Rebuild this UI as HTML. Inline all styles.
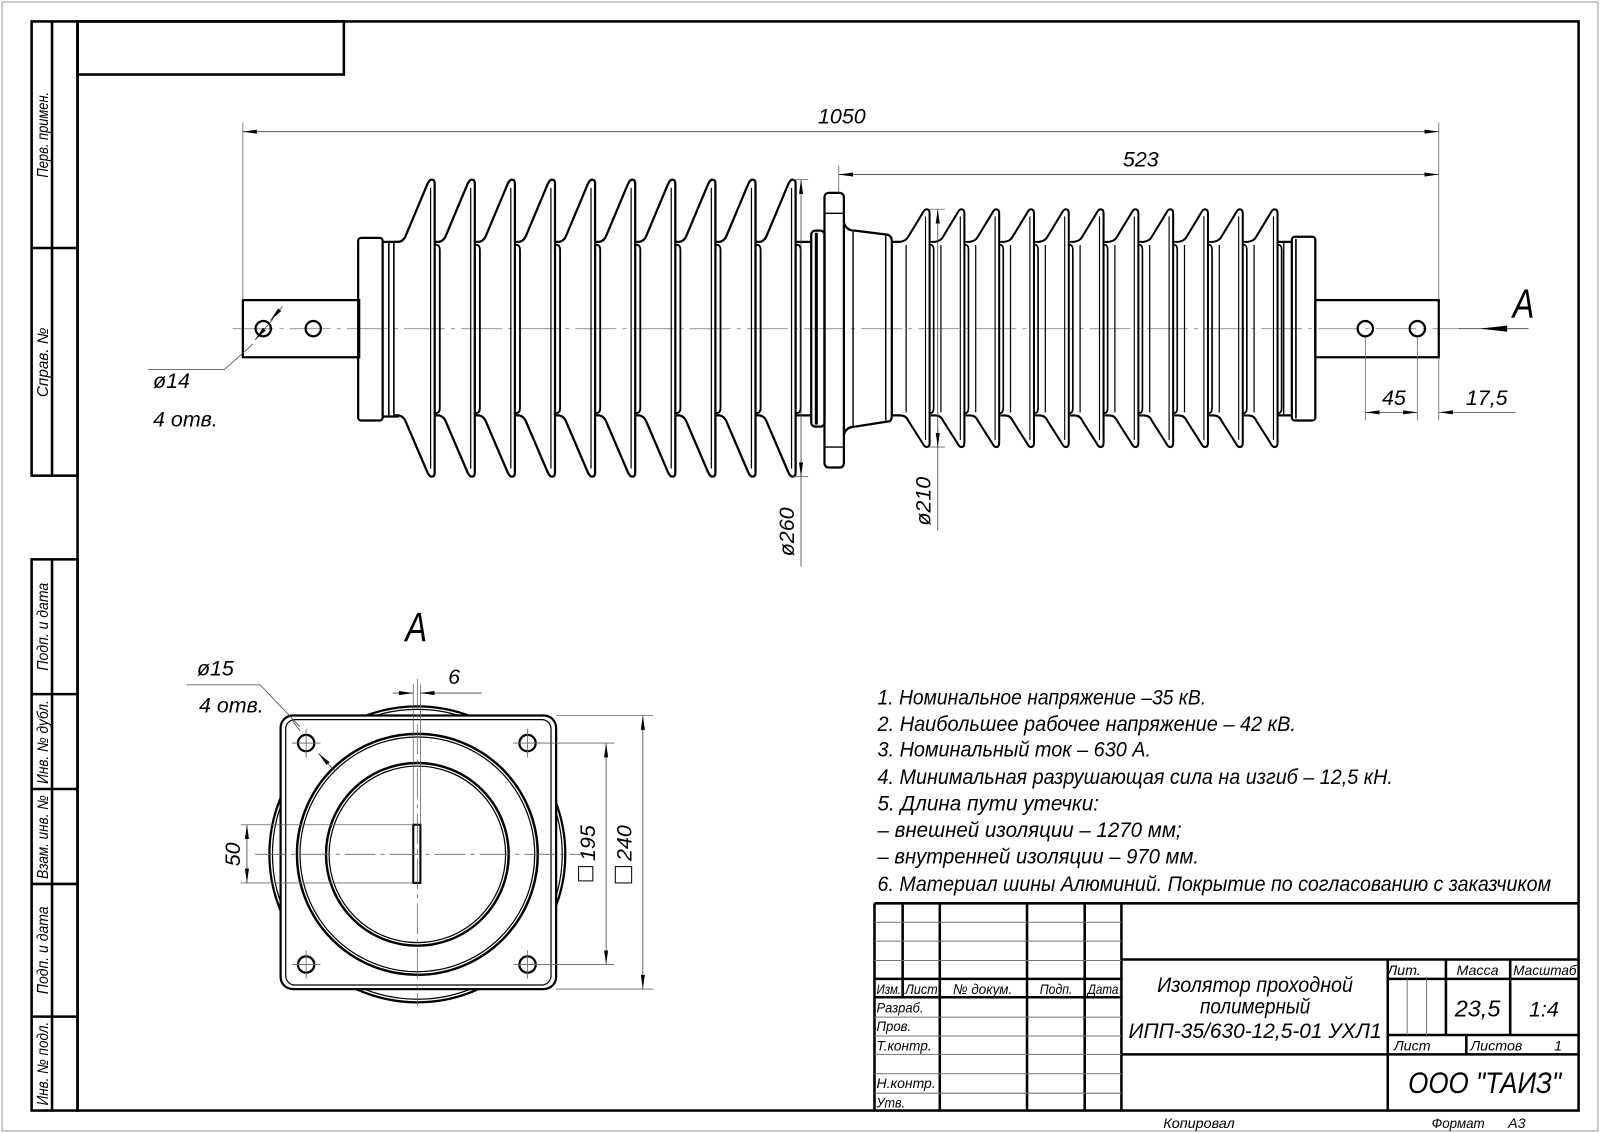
<!DOCTYPE html>
<html><head><meta charset="utf-8"><style>
html,body{margin:0;padding:0;background:#fff}
svg{display:block}
text{font-family:"Liberation Sans","DejaVu Sans",sans-serif;font-style:italic;fill:#000}
</style></head><body>
<svg width="1600" height="1133" viewBox="0 0 1568 1110" preserveAspectRatio="none" xmlns="http://www.w3.org/2000/svg">
<defs>
<marker id="ar" viewBox="0 0 14 4" refX="14" refY="2" markerWidth="14" markerHeight="4" markerUnits="userSpaceOnUse" orient="auto-start-reverse"><path d="M0 0 L14 2 L0 4 Z" fill="#000"/></marker>
<g id="shL" fill="none" stroke="#000" stroke-width="2.2">
<path d="M-36 237 L-32 237 Q-27 236 -25 230 L-4 180 Q-2 176 0 176 Q3 176 3 180 L3 463 Q3 467 0 467 Q-2 467 -4 463 L-25 414 Q-27 408 -32 407 L-36 407"/>
<line x1="-1" y1="184" x2="-1" y2="459" stroke-width="1.2"/>
<path d="M3 240 Q8 239 8 245 L8 400 Q8 405 3 405" stroke-width="1.8"/>
</g>
<g id="shR" fill="none" stroke="#000" stroke-width="2">
<path d="M-30 237 L-26 237 Q-20 236 -18 232 L-4 209 Q-2 205 0 205 Q3 205 3 209 L3 434 Q3 438 0 438 Q-2 438 -4 434 L-18 412 Q-20 407 -26 407 L-30 407"/>
<line x1="-1" y1="212" x2="-1" y2="431" stroke-width="1.1"/>
<path d="M3 240 Q7 239 7 245 L7 400 Q7 405 3 405" stroke-width="1.6"/>
<line x1="-20" y1="240" x2="-20" y2="404" stroke-width="1.2"/>
</g>
</defs>
<rect x="0" y="0" width="1568" height="1110" fill="#fff"/>
<rect x="2" y="2" width="1564" height="1106" fill="none" stroke="#999" stroke-width="1"/>
<!-- frame -->
<g fill="none" stroke="#000" stroke-width="2.5">
<rect x="76" y="21" width="1471" height="1067"/>
<rect x="76" y="21" width="261" height="52"/>
<rect x="31" y="21" width="45" height="445"/>
<line x1="51" y1="21" x2="51" y2="466"/>
<line x1="31" y1="243" x2="76" y2="243"/>
<rect x="31" y="548" width="45" height="540"/>
<line x1="51" y1="548" x2="51" y2="1088"/>
<line x1="31" y1="680" x2="76" y2="680"/>
<line x1="31" y1="773" x2="76" y2="773"/>
<line x1="31" y1="866" x2="76" y2="866"/>
<line x1="31" y1="996" x2="76" y2="996"/>
</g>
<g font-size="15">
<text transform="translate(47,132) rotate(-90)" text-anchor="middle" textLength="84" lengthAdjust="spacingAndGlyphs">Перв. примен.</text>
<text transform="translate(47,355) rotate(-90)" text-anchor="middle">Справ. №</text>
<text transform="translate(47,614) rotate(-90)" text-anchor="middle" textLength="86" lengthAdjust="spacingAndGlyphs">Подп. и дата</text>
<text transform="translate(47,727) rotate(-90)" text-anchor="middle" textLength="82" lengthAdjust="spacingAndGlyphs">Инв. № дубл.</text>
<text transform="translate(47,820) rotate(-90)" text-anchor="middle" textLength="82" lengthAdjust="spacingAndGlyphs">Взам. инв. №</text>
<text transform="translate(47,931) rotate(-90)" text-anchor="middle" textLength="86" lengthAdjust="spacingAndGlyphs">Подп. и дата</text>
<text transform="translate(47,1042) rotate(-90)" text-anchor="middle" textLength="82" lengthAdjust="spacingAndGlyphs">Инв. № подл.</text>
</g>

<!-- MAIN VIEW -->
<line x1="228" y1="322" x2="1432" y2="322" stroke="#888" stroke-width="0.8" stroke-dasharray="40 6 4 6"/>
<g fill="none" stroke="#000" stroke-width="2.2">
<rect x="238" y="294" width="114" height="56"/>
<circle cx="258" cy="322" r="7.5"/>
<circle cx="307" cy="322" r="7.5"/>
<rect x="1289" y="294" width="121" height="56"/>
<circle cx="1338" cy="322" r="7.5"/>
<circle cx="1389" cy="322" r="7.5"/>
<!-- left cap -->
<rect x="351" y="233" width="24" height="179" rx="3"/>
<path d="M375 237 L391 237 M375 408 L391 408"/>
<line x1="381" y1="238" x2="381" y2="407" stroke-width="1.6"/>
<line x1="386" y1="238" x2="386" y2="407" stroke-width="1.6"/>
<!-- neck left to ring -->
<path d="M780 237 L795 237 M780 407 L795 407"/>
<rect x="795" y="226" width="13" height="192" rx="4"/>
<line x1="800" y1="228" x2="800" y2="416" stroke-width="3"/>
<rect x="808" y="189" width="19" height="269" rx="4"/>
<path d="M808 209 L827 209 M808 438 L827 438" stroke-width="1.4"/>
<path d="M827 218 Q829 226 838 226 L870 230 Q874 231 874 237 L874 407 Q874 413 870 413 L838 418 Q829 418 827 426"/>
<line x1="836" y1="227" x2="836" y2="417" stroke-width="1.4"/>
<line x1="868" y1="231" x2="868" y2="412" stroke-width="1.4"/>
<path d="M874 237 L882 237 M874 407 L882 407"/>
<!-- right end -->
<path d="M1252 237 L1266 237 M1252 407 L1266 407"/>
<line x1="1258" y1="238" x2="1258" y2="406" stroke-width="1.4"/>
<rect x="1266" y="232" width="23" height="180" rx="3"/>
<line x1="1270" y1="234" x2="1270" y2="410" stroke-width="1.6"/>
</g>
<use href="#shL" x="423"/><use href="#shL" x="462.3"/><use href="#shL" x="501.6"/><use href="#shL" x="540.9"/><use href="#shL" x="580.2"/><use href="#shL" x="619.5"/><use href="#shL" x="658.8"/><use href="#shL" x="698.1"/><use href="#shL" x="737.4"/><use href="#shL" x="776.7"/>
<use href="#shR" x="908"/><use href="#shR" x="942.1"/><use href="#shR" x="976.2"/><use href="#shR" x="1010.3"/><use href="#shR" x="1044.4"/><use href="#shR" x="1078.5"/><use href="#shR" x="1112.6"/><use href="#shR" x="1146.7"/><use href="#shR" x="1180.8"/><use href="#shR" x="1214.9"/><use href="#shR" x="1249"/>

<!-- dimensions main -->
<g stroke="#666" stroke-width="0.8" fill="none">
<line x1="238" y1="120" x2="238" y2="294"/>
<line x1="1410" y1="120" x2="1410" y2="294"/>
<line x1="822" y1="162" x2="822" y2="189"/>
<line x1="238" y1="129" x2="1410" y2="129" stroke="#444" marker-start="url(#ar)" marker-end="url(#ar)"/>
<line x1="822" y1="171" x2="1410" y2="171" stroke="#444" marker-start="url(#ar)" marker-end="url(#ar)"/>
<line x1="777" y1="176" x2="792" y2="176"/>
<line x1="777" y1="467" x2="792" y2="467"/>
<line x1="785" y1="176" x2="785" y2="555" stroke="#444" marker-start="url(#ar)"/>
<line x1="785" y1="450" x2="785" y2="467" stroke="#444" marker-end="url(#ar)"/>
<line x1="910" y1="205" x2="926" y2="205"/>
<line x1="910" y1="438" x2="926" y2="438"/>
<line x1="919" y1="205" x2="919" y2="520" stroke="#444" marker-start="url(#ar)"/>
<line x1="919" y1="420" x2="919" y2="438" stroke="#444" marker-end="url(#ar)"/>
<line x1="1338" y1="330" x2="1338" y2="412"/>
<line x1="1389" y1="330" x2="1389" y2="412"/>
<line x1="1410" y1="350" x2="1410" y2="412"/>
<line x1="1338" y1="404" x2="1389" y2="404" stroke="#444" marker-start="url(#ar)" marker-end="url(#ar)"/>
<line x1="1410" y1="404" x2="1485" y2="404" stroke="#444" marker-start="url(#ar)"/>
<line x1="1430" y1="322" x2="1498" y2="322" stroke="#444"/>
<path d="M248 337 L220 362 L145 362" stroke="#444"/>
<line x1="250" y1="333" x2="268" y2="312" stroke="#444" marker-start="url(#ar)"/>
<line x1="277" y1="300" x2="265" y2="314" stroke="#444" marker-end="url(#ar)"/>
</g>
<path d="M1450 322 L1477 319 L1477 325 Z" fill="#000"/>
<g font-size="21">
<text x="825" y="121" text-anchor="middle">1050</text>
<text x="1118" y="163" text-anchor="middle">523</text>
<text x="1366" y="397" text-anchor="middle">45</text>
<text x="1457" y="397" text-anchor="middle">17,5</text>
<text x="150" y="380">ø14</text>
<text x="150" y="418">4 отв.</text>
<text transform="translate(778,545) rotate(-90)">ø260</text>
<text transform="translate(912,515) rotate(-90)">ø210</text>
</g>
<text x="1493" y="311" font-size="40" font-style="normal" text-anchor="middle" transform="translate(1493,0) scale(0.8,1) translate(-1493,0)">A</text>

<!-- VIEW A -->
<text x="408" y="628" font-size="40" font-style="normal" text-anchor="middle" transform="translate(408,0) scale(0.8,1) translate(-408,0)">A</text>
<g fill="none" stroke="#000">
<circle cx="409" cy="837" r="145" stroke-width="2.2"/>
<circle cx="409" cy="837" r="142" stroke-width="1.2"/>
<rect x="275" y="701" width="270" height="268" rx="12" fill="#fff" stroke-width="2.2"/>
<rect x="280" y="705" width="260" height="260" rx="9" stroke-width="1.2"/>
<circle cx="409" cy="837" r="118" stroke-width="2.4"/>
<circle cx="409" cy="837" r="115" stroke-width="1.2"/>
<circle cx="409" cy="837" r="89.5" stroke-width="2.4"/>
<circle cx="409" cy="837" r="86.5" stroke-width="1.2"/>
<circle cx="300" cy="728" r="8" stroke-width="2.2"/>
<circle cx="517" cy="728" r="8" stroke-width="2.2"/>
<circle cx="300" cy="945" r="8" stroke-width="2.2"/>
<circle cx="517" cy="945" r="8" stroke-width="2.2"/>
<rect x="405" y="808" width="7" height="57" stroke-width="2"/>
</g>
<g stroke="#666" stroke-width="0.8" fill="none">
<line x1="409" y1="665" x2="409" y2="985" stroke-dasharray="30 5 4 5"/>
<line x1="250" y1="837" x2="580" y2="837" stroke-dasharray="30 5 4 5"/>
<path d="M286 728 L314 728 M300 714 L300 742 M503 728 L531 728 M517 714 L517 742 M286 945 L314 945 M300 931 L300 959 M503 945 L531 945 M517 931 L517 959"/>
<line x1="405" y1="670" x2="405" y2="808"/>
<line x1="412" y1="670" x2="412" y2="808"/>
<line x1="385" y1="679" x2="405" y2="679" stroke="#444" marker-end="url(#ar)"/>
<line x1="472" y1="679" x2="412" y2="679" stroke="#444" marker-end="url(#ar)"/>
<line x1="236" y1="808" x2="405" y2="808"/>
<line x1="236" y1="865" x2="405" y2="865"/>
<line x1="242" y1="808" x2="242" y2="865" stroke="#444" marker-start="url(#ar)" marker-end="url(#ar)"/>
<line x1="517" y1="728" x2="602" y2="728"/>
<line x1="517" y1="945" x2="602" y2="945"/>
<line x1="594" y1="728" x2="594" y2="945" stroke="#444" marker-start="url(#ar)" marker-end="url(#ar)"/>
<line x1="545" y1="701" x2="640" y2="701"/>
<line x1="545" y1="969" x2="640" y2="969"/>
<line x1="630" y1="701" x2="630" y2="969" stroke="#444" marker-start="url(#ar)" marker-end="url(#ar)"/>
<path d="M183 671 L255 671 L294 712" stroke="#444"/>
<line x1="286" y1="705" x2="294" y2="716" stroke="#444"/>
<line x1="328" y1="755" x2="312" y2="738" stroke="#444" marker-end="url(#ar)"/>
</g>
<g font-size="21">
<text x="445" y="670" text-anchor="middle">6</text>
<text x="193" y="662">ø15</text>
<text x="195" y="698">4 отв.</text>
<text transform="translate(235,837) rotate(-90)" text-anchor="middle">50</text>
<text transform="translate(583,826) rotate(-90)" text-anchor="middle">195</text>
<text transform="translate(619,826) rotate(-90)" text-anchor="middle">240</text>
</g>
<rect x="567" y="849" width="14" height="14" fill="none" stroke="#000" stroke-width="1"/>
<rect x="603" y="849" width="16" height="16" fill="none" stroke="#000" stroke-width="1"/>

<!-- NOTES -->
<g font-size="21">
<text x="860" y="690" textLength="322" lengthAdjust="spacingAndGlyphs">1. Номинальное напряжение –35 кВ.</text>
<text x="860" y="716" textLength="410" lengthAdjust="spacingAndGlyphs">2. Наибольшее рабочее напряжение – 42 кВ.</text>
<text x="860" y="741" textLength="268" lengthAdjust="spacingAndGlyphs">3. Номинальный ток – 630 А.</text>
<text x="860" y="768" textLength="505" lengthAdjust="spacingAndGlyphs">4. Минимальная разрушающая сила на изгиб – 12,5 кН.</text>
<text x="860" y="794" textLength="217" lengthAdjust="spacingAndGlyphs">5.  Длина пути утечки:</text>
<text x="860" y="820" textLength="298" lengthAdjust="spacingAndGlyphs">– внешней изоляции – 1270 мм;</text>
<text x="860" y="846" textLength="315" lengthAdjust="spacingAndGlyphs">– внутренней изоляции – 970 мм.</text>
<text x="860" y="873" textLength="660" lengthAdjust="spacingAndGlyphs">6. Материал шины Алюминий. Покрытие по согласованию с заказчиком</text>
</g>

<!-- TITLE BLOCK -->
<g fill="none" stroke="#000" stroke-width="2.5">
<line x1="857" y1="885" x2="1547" y2="885"/>
<line x1="857" y1="885" x2="857" y2="1088"/>
<line x1="884.6" y1="885" x2="884.6" y2="977"/>
<line x1="921" y1="885" x2="921" y2="1088"/>
<line x1="1006.5" y1="885" x2="1006.5" y2="1088"/>
<line x1="1063" y1="885" x2="1063" y2="1088"/>
<line x1="1099" y1="885" x2="1099" y2="1088"/>
<line x1="857" y1="959" x2="1099" y2="959"/>
<line x1="857" y1="977" x2="1099" y2="977"/>
<line x1="1099" y1="940" x2="1547" y2="940"/>
<line x1="1099" y1="1033" x2="1547" y2="1033"/>
<line x1="1360" y1="940" x2="1360" y2="1088"/>
<line x1="1360" y1="959" x2="1547" y2="959"/>
<line x1="1360" y1="1014" x2="1547" y2="1014"/>
<line x1="1417" y1="940" x2="1417" y2="1014"/>
<line x1="1480" y1="940" x2="1480" y2="1014"/>
<line x1="1437" y1="1014" x2="1437" y2="1033"/>
</g>
<g stroke="#777" stroke-width="1" fill="none">
<line x1="857" y1="903.5" x2="1099" y2="903.5"/>
<line x1="857" y1="922" x2="1099" y2="922"/>
<line x1="857" y1="941" x2="1099" y2="941"/>
<line x1="857" y1="996.5" x2="1099" y2="996.5"/>
<line x1="857" y1="1015" x2="1099" y2="1015"/>
<line x1="857" y1="1033" x2="1099" y2="1033"/>
<line x1="857" y1="1052" x2="1099" y2="1052"/>
<line x1="857" y1="1071" x2="1099" y2="1071"/>
<line x1="1379" y1="959" x2="1379" y2="1014"/>
<line x1="1398" y1="959" x2="1398" y2="1014"/>
</g>
<g font-size="14">
<text x="859" y="974" textLength="24" lengthAdjust="spacingAndGlyphs">Изм.</text>
<text x="887" y="974" textLength="32" lengthAdjust="spacingAndGlyphs">Лист</text>
<text x="963" y="974" text-anchor="middle" textLength="58" lengthAdjust="spacingAndGlyphs">№ докум.</text>
<text x="1035" y="974" text-anchor="middle" textLength="32" lengthAdjust="spacingAndGlyphs">Подп.</text>
<text x="1081" y="974" text-anchor="middle" textLength="30" lengthAdjust="spacingAndGlyphs">Дата</text>
<text x="859" y="992" textLength="46" lengthAdjust="spacingAndGlyphs">Разраб.</text>
<text x="859" y="1010" textLength="34" lengthAdjust="spacingAndGlyphs">Пров.</text>
<text x="859" y="1029" textLength="54" lengthAdjust="spacingAndGlyphs">Т.контр.</text>
<text x="859" y="1066" textLength="58" lengthAdjust="spacingAndGlyphs">Н.контр.</text>
<text x="859" y="1085" textLength="28" lengthAdjust="spacingAndGlyphs">Утв.</text>
<text x="1376" y="955" text-anchor="middle">Лит.</text>
<text x="1448" y="955" text-anchor="middle">Масса</text>
<text x="1514" y="955" text-anchor="middle" textLength="62" lengthAdjust="spacingAndGlyphs">Масштаб</text>
<text x="1366" y="1029">Лист</text>
<text x="1441" y="1029">Листов</text>
<text x="1527" y="1029" text-anchor="middle">1</text>
</g>
<g font-size="21" text-anchor="middle">
<text x="1230" y="972" textLength="192" lengthAdjust="spacingAndGlyphs">Изолятор проходной</text>
<text x="1230" y="993" textLength="108" lengthAdjust="spacingAndGlyphs">полимерный</text>
<text x="1230" y="1017" textLength="248" lengthAdjust="spacingAndGlyphs">ИПП-35/630-12,5-01 УХЛ1</text>
<text x="1448" y="996" font-size="23">23,5</text>
<text x="1513" y="996" font-size="21">1:4</text>
<text x="1455" y="1071" font-size="29" textLength="150" lengthAdjust="spacingAndGlyphs">ООО "ТАИЗ"</text>
</g>
<g font-size="14">
<text x="1140" y="1105" textLength="70" lengthAdjust="spacingAndGlyphs">Копировал</text>
<text x="1403" y="1105" textLength="52" lengthAdjust="spacingAndGlyphs">Формат</text>
<text x="1478" y="1105">А3</text>
</g>
</svg>
</body></html>
